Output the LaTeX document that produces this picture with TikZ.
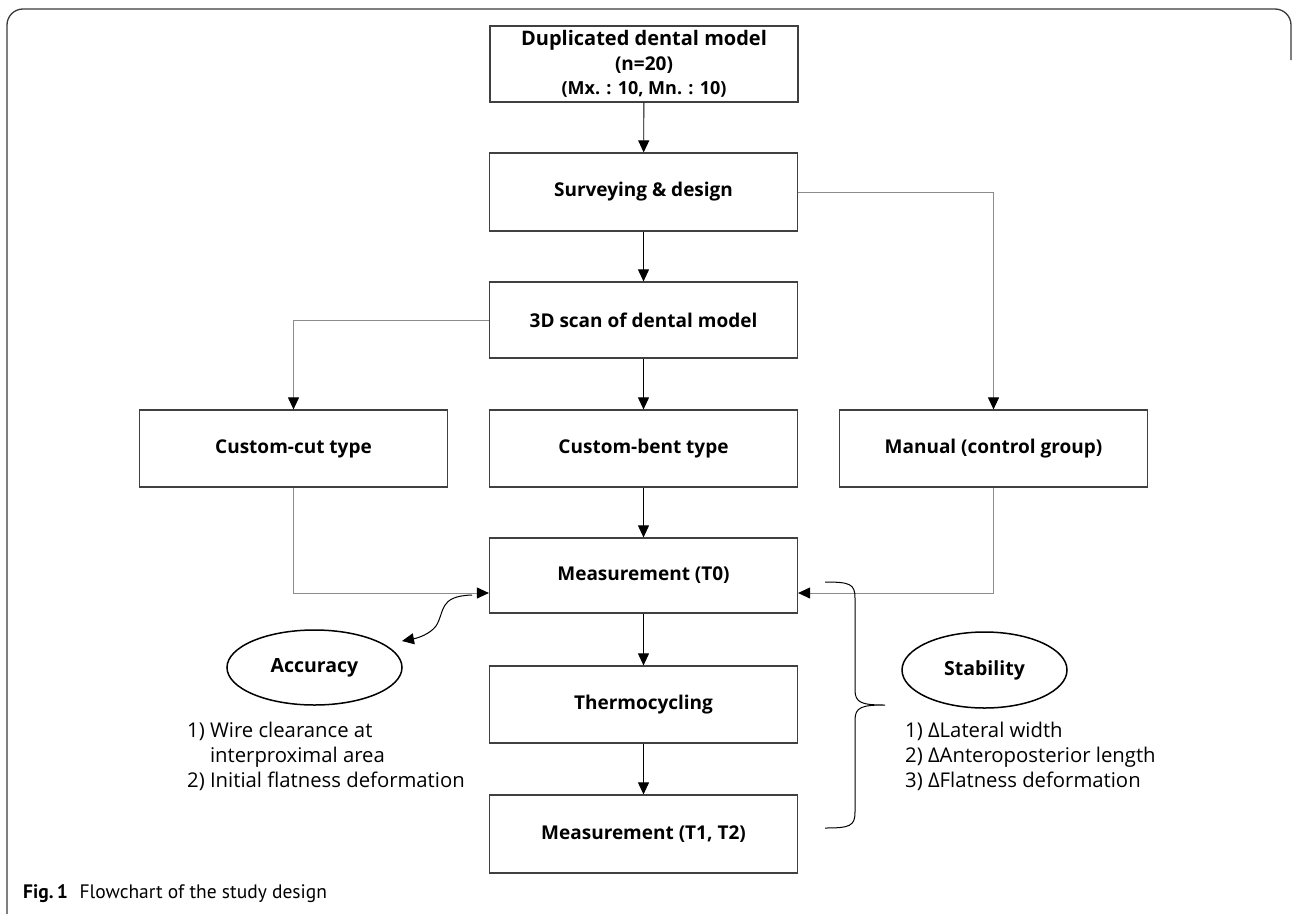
\documentclass[tikz,border=0pt]{standalone}
\usepackage{fontspec}
\setmainfont{Open Sans}
\newfontfamily\capfont{PT Sans}
\usetikzlibrary{arrows.meta,shapes.geometric}
\definecolor{boxgray}{HTML}{404040}
\definecolor{linegray}{HTML}{8C8C8C}
\definecolor{framegray}{HTML}{3A3A3A}
\begin{document}
\begin{tikzpicture}[x=1pt,y=-1pt,
  box/.style={draw=boxgray, line width=1.2pt, minimum width=308pt, minimum height=77pt,
    inner sep=0pt, align=center, font=\fontsize{19}{24}\selectfont\bfseries},
  oval/.style={draw=black, line width=1.5pt, ellipse, inner sep=0pt,
    font=\fontsize{19.5}{24}\selectfont\bfseries},
  listtext/.style={inner sep=0pt, anchor=base west, font=\fontsize{20.3}{25}\selectfont},
  arr/.style={line width=0.9pt, -{Triangle[width=11pt,length=12pt]}},
  garr/.style={draw=linegray, line width=1pt, -{Triangle[width=11pt,length=12pt,color=black]}},
  gline/.style={draw=linegray, line width=1pt}]
\useasboundingbox (0,0) rectangle (1292,913);
% outer frame
\draw[framegray, line width=1.3pt, rounded corners=16pt] (7,915) -- (7,9) -- (1291,9) -- (1291,60);

% boxes
\node[box, minimum height=76pt] (top) at (644,64) {{\fontsize{20}{25}\selectfont Duplicated dental model}\\[0.5pt](n=20)\\[0.5pt]{\fontsize{18}{22}\selectfont (Mx. : 10, Mn. : 10)}};
\node[box, minimum height=78pt] (surv) at (643.5,192) {Surveying \& design};
\node[box, minimum height=76pt] (scan) at (643.5,320) {3D scan of dental model};
\node[box] (bent) at (643.5,448.5) {Custom-bent type};
\node[box] (cut) at (293.5,448.5) {Custom-cut type};
\node[box] (man) at (993.5,448.5) {Manual (control group)};
\node[box, minimum height=75pt] (t0) at (643.5,575.5) {Measurement (T0)};
\node[box] (thermo) at (643.5,704.5) {Thermocycling};
\node[box, minimum height=78pt] (t12) at (643.5,834) {Measurement (T1, T2)};

% ovals
\node[oval, minimum width=175pt, minimum height=75pt] (acc) at (314.5,667.5) {Accuracy};
\node[oval, minimum width=165pt, minimum height=76pt] (stab) at (984.5,670) {Stability};

% lists
\node[listtext] (acc1) at (187,737) {1)\ Wire clearance at};
\node[listtext] (acc2) at (187,762) {\phantom{1)\ }interproximal area};
\node[listtext] (acc3) at (187,787) {2)\ Initial flatness deformation};
\node[listtext] (stab1) at (905,737) {1)\ ΔLateral width};
\node[listtext] (stab2) at (905,762) {2)\ ΔAnteroposterior length};
\node[listtext] (stab3) at (905,787) {3)\ ΔFlatness deformation};

% main arrows
\draw[arr] (top) -- (surv);
\draw[arr] (surv) -- (scan);
\draw[arr] (scan) -- (bent);
\draw[arr] (bent) -- (t0);
\draw[arr] (t0) -- (thermo);
\draw[arr] (thermo) -- (t12);

% side connectors
\draw[garr] (scan.west) -| (cut.north);
\draw[garr] (surv.east) -| (man.north);
\draw[garr] (cut.south) |- ([yshift=-17.5pt]t0.west);
\draw[garr] (man.south) |- ([yshift=-17.5pt]t0.east);

% curved arrow to accuracy
\coordinate (cs) at (472,595);
\coordinate (ce) at (402,641);
\draw[line width=1pt, -{Triangle[width=11pt,length=12pt]}] (cs) .. controls (438,596) and (445,612) .. (436,626) .. controls (430,634) and (418,638) .. (ce);

% brace
\coordinate (b1) at (825,582);
\coordinate (b2) at (825,828);
\coordinate (bt) at (885,705);
\draw[black, line width=1pt] (b1) .. controls (850,582) and (855,584) .. (855,598) -- (855,690)
  .. controls (855,703) and (862,705) .. (bt)
  .. controls (862,705) and (855,707) .. (855,720) -- (855,812)
  .. controls (855,826) and (850,828) .. (b2);

% caption
\node[anchor=base west, inner sep=0pt, font=\capfont\fontsize{19.5}{22}\selectfont] (cap) at (23,898) {\textbf{Fig.\,1}\hspace{0.6em}Flowchart of the study design};
\end{tikzpicture}
\end{document}
